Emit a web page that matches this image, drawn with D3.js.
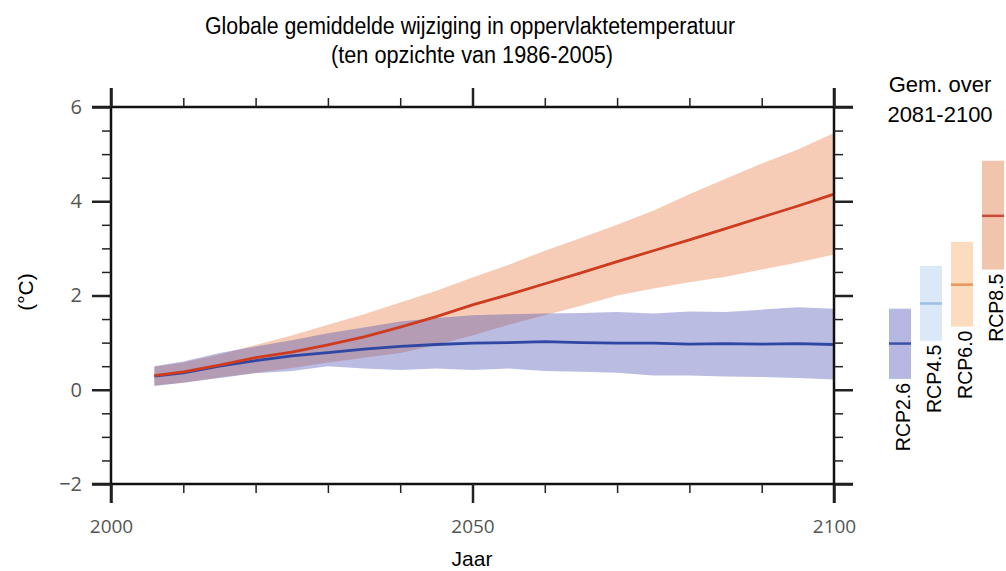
<!DOCTYPE html>
<html>
<head>
<meta charset="utf-8">
<script src="https://cdn.jsdelivr.net/npm/d3@7"></script>
<style>
  body { margin: 0; background: #fff; }
  svg { display: block; }
</style>
</head>
<body>
<svg id="chart" width="1006" height="571"></svg>
<script>
const width = 1006;
const height = 571;

// time series (5-yr samples)
const years = [2006, 2010, 2015, 2020, 2025, 2030, 2035, 2040, 2045, 2050,
  2055, 2060, 2065, 2070, 2075, 2080, 2085, 2090, 2095, 2100];
const rcp85Mean = [0.30, 0.38, 0.52, 0.68, 0.80, 0.95, 1.12, 1.33, 1.55, 1.80,
  2.02, 2.25, 2.48, 2.72, 2.95, 3.18, 3.42, 3.66, 3.90, 4.15];
const rcp85High = [0.49, 0.58, 0.75, 0.95, 1.15, 1.38, 1.60, 1.85, 2.10, 2.38,
  2.65, 2.95, 3.22, 3.50, 3.80, 4.15, 4.48, 4.80, 5.10, 5.45];
const rcp85Low = [0.09, 0.15, 0.26, 0.36, 0.46, 0.58, 0.68, 0.78, 0.95, 1.15,
  1.38, 1.58, 1.78, 2.00, 2.15, 2.28, 2.40, 2.55, 2.70, 2.87];
const rcp26Mean = [0.29, 0.36, 0.50, 0.62, 0.72, 0.79, 0.86, 0.92, 0.96, 0.99,
  1.00, 1.02, 1.00, 0.99, 0.99, 0.97, 0.98, 0.97, 0.98, 0.96];
const rcp26High = [0.50, 0.60, 0.78, 0.92, 1.05, 1.20, 1.32, 1.45, 1.52, 1.58,
  1.60, 1.62, 1.63, 1.65, 1.62, 1.66, 1.65, 1.70, 1.75, 1.72];
const rcp26Low = [0.08, 0.15, 0.25, 0.35, 0.40, 0.50, 0.45, 0.42, 0.45, 0.42,
  0.45, 0.40, 0.38, 0.36, 0.30, 0.30, 0.28, 0.27, 0.25, 0.22];

// 2081-2100 averages per scenario
const scenarios = ["RCP2.6", "RCP4.5", "RCP6.0", "RCP8.5"];
const avgLow = [0.23, 1.04, 1.34, 2.55];
const avgMean = [0.98, 1.83, 2.23, 3.69];
const avgHigh = [1.72, 2.63, 3.14, 4.86];

const yTicks = [-2, 0, 2, 4, 6];
const xTicks = [2000, 2050, 2100];

const barFill = ["#b6b8e1", "#dae8f7", "#fbdcbe", "#f1c4ae"];
const barLine = ["#3c4fa8", "#9cbfe6", "#e8945a", "#cc4a3a"];

const svg = d3.select("#chart");

const x = d3.scaleLinear().domain([2000, 2100]).range([111, 834]);
const y = d3.scaleLinear().domain([-2, 6]).range([484, 107]);
const ext = 19;

// bands
const bandData = (lo, hi) => years.map((yr, i) => ({ yr, lo: lo[i], hi: hi[i] }));
const area = d3.area().x(d => x(d.yr)).y0(d => y(d.lo)).y1(d => y(d.hi));
const line = d3.line().x((d, i) => x(years[i])).y(d => y(d));

svg.append("path")
  .attr("d", area(bandData(rcp85Low, rcp85High)))
  .attr("fill", "#eea27a").attr("fill-opacity", 0.55);
svg.append("path")
  .attr("d", area(bandData(rcp26Low, rcp26High)))
  .attr("fill", "#4a4fb0").attr("fill-opacity", 0.38);

svg.append("path").attr("d", line(rcp26Mean))
  .attr("fill", "none").attr("stroke", "#2f47a3").attr("stroke-width", 2.8);
svg.append("path").attr("d", line(rcp85Mean))
  .attr("fill", "none").attr("stroke", "#cf3b1f").attr("stroke-width", 2.8);

// frame lines, running past the corners
const frame = svg.append("g").attr("stroke", "#111").attr("stroke-width", 2.5);
frame.append("line").attr("x1", x(2000) - ext).attr("x2", x(2100) + ext).attr("y1", y(6)).attr("y2", y(6));
frame.append("line").attr("x1", x(2000) - ext).attr("x2", x(2100) + ext).attr("y1", y(-2)).attr("y2", y(-2));
frame.append("line").attr("x1", x(2000)).attr("x2", x(2000)).attr("y1", y(6) - ext).attr("y2", y(-2) + ext);
frame.append("line").attr("x1", x(2100)).attr("x2", x(2100)).attr("y1", y(6) - ext).attr("y2", y(-2) + ext);

const minorY = d3.range(-2, 6.01, 0.5).filter(v => v % 2 !== 0);
const minorX = d3.range(2000, 2101, 10).filter(v => v % 50 !== 0);

function styleAxis(g, major) {
  g.select(".domain").remove();
  g.selectAll(".tick line").attr("stroke", "#222").attr("stroke-width", major ? 2.5 : 1.5);
}

// minor ticks, all sides
svg.append("g").attr("transform", `translate(${x(2000)},0)`)
  .call(d3.axisLeft(y).tickValues(minorY).tickSize(9).tickFormat(""))
  .call(g => styleAxis(g, false));
svg.append("g").attr("transform", `translate(${x(2100)},0)`)
  .call(d3.axisRight(y).tickValues(minorY).tickSize(9).tickFormat(""))
  .call(g => styleAxis(g, false));
svg.append("g").attr("transform", `translate(0,${y(-2)})`)
  .call(d3.axisBottom(x).tickValues(minorX).tickSize(9).tickFormat(""))
  .call(g => styleAxis(g, false));
svg.append("g").attr("transform", `translate(0,${y(6)})`)
  .call(d3.axisTop(x).tickValues(minorX).tickSize(9).tickFormat(""))
  .call(g => styleAxis(g, false));

// major ticks
const labelFont = "'Open Sans', 'Noto Sans', sans-serif";
svg.append("g").attr("transform", `translate(${x(2000)},0)`)
  .call(d3.axisLeft(y).tickValues(yTicks).tickSize(ext).tickPadding(10).tickFormat(d => d < 0 ? "\u2212" + Math.abs(d) : d))
  .call(g => styleAxis(g, true))
  .call(g => g.selectAll("text").attr("font-family", labelFont).attr("font-size", 20).attr("fill", "#555"));
svg.append("g").attr("transform", `translate(${x(2100)},0)`)
  .call(d3.axisRight(y).tickValues(yTicks).tickSize(ext).tickFormat(""))
  .call(g => styleAxis(g, true));
svg.append("g").attr("transform", `translate(0,${y(-2)})`)
  .call(d3.axisBottom(x).tickValues(xTicks).tickSize(ext).tickPadding(17).tickFormat(d3.format("d")))
  .call(g => styleAxis(g, true))
  .call(g => g.selectAll("text").attr("font-family", labelFont).attr("font-size", 19).attr("fill", "#555"));
svg.append("g").attr("transform", `translate(0,${y(6)})`)
  .call(d3.axisTop(x).tickValues(xTicks).tickSize(ext).tickFormat(""))
  .call(g => styleAxis(g, true));

// titles
const titleFont = "'Liberation Sans Narrow', 'Arial Narrow', 'Liberation Sans', Arial, sans-serif";
svg.append("text").attr("x", 470).attr("y", 34).attr("text-anchor", "middle")
  .attr("font-family", titleFont).attr("font-size", 23)
  .attr("textLength", 530).attr("lengthAdjust", "spacingAndGlyphs")
  .text("Globale gemiddelde wijziging in oppervlaktetemperatuur");
svg.append("text").attr("x", 472).attr("y", 63).attr("text-anchor", "middle")
  .attr("font-family", titleFont).attr("font-size", 23)
  .attr("textLength", 282).attr("lengthAdjust", "spacingAndGlyphs")
  .text("(ten opzichte van 1986-2005)");

const plainFont = "'Liberation Sans', Arial, sans-serif";
svg.append("text").attr("x", 472).attr("y", 566).attr("text-anchor", "middle")
  .attr("font-family", plainFont).attr("font-size", 21).text("Jaar");
svg.append("text").attr("transform", "translate(33,292) rotate(-90)").attr("text-anchor", "middle")
  .attr("font-family", plainFont).attr("font-size", 21).text("(°C)");

// side panel: 2081-2100 averages
svg.append("text").attr("x", 940).attr("y", 92).attr("text-anchor", "middle")
  .attr("font-family", plainFont).attr("font-size", 22).text("Gem. over");
svg.append("text").attr("x", 940).attr("y", 122).attr("text-anchor", "middle")
  .attr("font-family", plainFont).attr("font-size", 22).text("2081-2100");

const xb = d3.scaleBand().domain(scenarios).range([889, 1004]).paddingInner(0.29).paddingOuter(0);
const side = svg.append("g");
scenarios.forEach((s, i) => {
  side.append("rect")
    .attr("x", xb(s)).attr("width", xb.bandwidth())
    .attr("y", y(avgHigh[i])).attr("height", y(avgLow[i]) - y(avgHigh[i]))
    .attr("fill", barFill[i]);
  side.append("line")
    .attr("x1", xb(s)).attr("x2", xb(s) + xb.bandwidth())
    .attr("y1", y(avgMean[i])).attr("y2", y(avgMean[i]))
    .attr("stroke", barLine[i]).attr("stroke-width", 2.5);
  side.append("text")
    .attr("transform", `translate(${xb(s) + xb.bandwidth() - 1},${y(avgLow[i]) + 4}) rotate(-90)`)
    .attr("text-anchor", "end")
    .attr("font-family", plainFont).attr("font-size", 19.5)
    .text(s);
});
</script>
</body>
</html>
